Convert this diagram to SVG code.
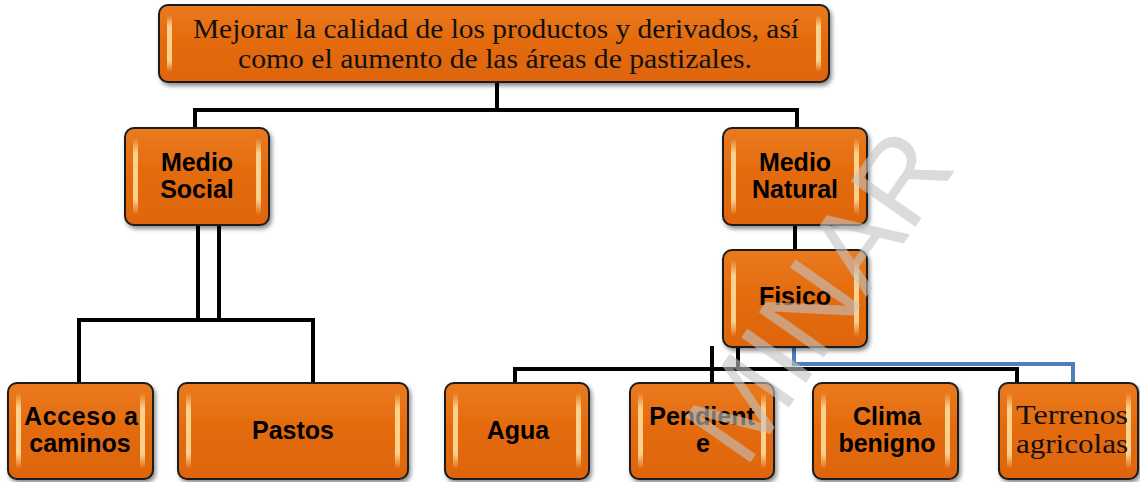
<svg xmlns="http://www.w3.org/2000/svg" width="1140" height="482" viewBox="0 0 1140 482">
<defs>
<linearGradient id="fillG" x1="0" y1="0" x2="0" y2="1">
<stop offset="0" stop-color="#ea7a20"/>
<stop offset="0.5" stop-color="#e36a0b"/>
<stop offset="1" stop-color="#de650a"/>
</linearGradient>
<linearGradient id="hlG" x1="0" y1="0" x2="0" y2="1">
<stop offset="0" stop-color="#ffe2a8" stop-opacity="0"/>
<stop offset="0.2" stop-color="#ffdc9a" stop-opacity="0.9"/>
<stop offset="0.8" stop-color="#ffdc9a" stop-opacity="0.9"/>
<stop offset="1" stop-color="#ffe2a8" stop-opacity="0"/>
</linearGradient>
<filter id="sh" x="-10%" y="-10%" width="120%" height="130%">
<feDropShadow dx="2" dy="3" stdDeviation="2" flood-color="#000" flood-opacity="0.45"/>
</filter>
</defs>
<style>
.box{fill:url(#fillG);stroke:#1a1a1a;stroke-width:2;filter:url(#sh)}
.hl{fill:url(#hlG)}
.sans{font-family:"Liberation Sans",Arial,sans-serif;font-weight:bold;font-size:25px;fill:#000;text-anchor:middle}
.serif{font-family:"Liberation Serif","Times New Roman",serif;font-size:27px;fill:#111;text-anchor:middle}
.conn{fill:none;stroke:#000;stroke-width:4}
.blue{fill:none;stroke:#4f7dbd;stroke-width:4}
.wm{font-family:"Liberation Sans",Arial,sans-serif;font-size:115px;fill:#c4c4c4;opacity:0.6}
</style>
<rect width="1140" height="482" fill="#fff"/>

<g id="connectors">
<polyline class="conn" points="497,82 497,110"/>
<polyline class="conn" points="195,128 195,110 797,110 797,128"/>
<line class="conn" x1="198" y1="225" x2="198" y2="320"/>
<line class="conn" x1="219" y1="225" x2="219" y2="320"/>
<polyline class="conn" points="79,383 79,320 313,320 313,383"/>
<line class="conn" x1="795" y1="225" x2="795" y2="250"/>
<polyline class="conn" points="515,383 515,369 1017,369 1017,383"/>
<line class="conn" x1="738" y1="347" x2="738" y2="369"/>
<line class="conn" x1="712" y1="346" x2="712" y2="383"/>
<polyline class="blue" points="794,347 794,364 1073,364 1073,383"/>
</g>

<g id="n-top">
<rect class="box" x="159" y="5" width="670" height="77" rx="9"/>
<rect class="hl" x="167" y="15" width="5" height="57" rx="2"/>
<rect class="hl" x="816" y="15" width="5" height="57" rx="2"/>
<text class="serif" x="496" y="38" textLength="606" lengthAdjust="spacingAndGlyphs">Mejorar la calidad de los productos y derivados, así</text>
<text class="serif" x="495" y="68" textLength="514" lengthAdjust="spacingAndGlyphs">como el aumento de las áreas de pastizales.</text>
</g>

<g id="n-social">
<rect class="box" x="125" y="128" width="144" height="97" rx="9"/>
<rect class="hl" x="133" y="138" width="5" height="77" rx="2"/>
<rect class="hl" x="256" y="138" width="5" height="77" rx="2"/>
<text class="sans" x="197" y="171">Medio</text>
<text class="sans" x="197" y="198">Social</text>
</g>

<g id="n-natural">
<rect class="box" x="723" y="128" width="144" height="97" rx="9"/>
<rect class="hl" x="731" y="138" width="5" height="77" rx="2"/>
<rect class="hl" x="854" y="138" width="5" height="77" rx="2"/>
<text class="sans" x="795" y="171">Medio</text>
<text class="sans" x="795" y="198">Natural</text>
</g>

<g id="n-fisico">
<rect class="box" x="723" y="250" width="144" height="97" rx="9"/>
<rect class="hl" x="731" y="260" width="5" height="77" rx="2"/>
<rect class="hl" x="854" y="260" width="5" height="77" rx="2"/>
<text class="sans" x="795" y="305">Fisico</text>
</g>

<g id="n-acceso">
<rect class="box" x="8" y="383" width="145" height="96" rx="9"/>
<rect class="hl" x="16" y="393" width="5" height="76" rx="2"/>
<rect class="hl" x="140" y="393" width="5" height="76" rx="2"/>
<text class="sans" x="81" y="425" textLength="114" lengthAdjust="spacing">Acceso a</text>
<text class="sans" x="80" y="452">caminos</text>
</g>

<g id="n-pastos">
<rect class="box" x="178" y="383" width="230" height="96" rx="9"/>
<rect class="hl" x="186" y="393" width="5" height="76" rx="2"/>
<rect class="hl" x="395" y="393" width="5" height="76" rx="2"/>
<text class="sans" x="293" y="439">Pastos</text>
</g>

<g id="n-agua">
<rect class="box" x="445" y="383" width="144" height="96" rx="9"/>
<rect class="hl" x="453" y="393" width="5" height="76" rx="2"/>
<rect class="hl" x="576" y="393" width="5" height="76" rx="2"/>
<text class="sans" x="518" y="439">Agua</text>
</g>

<g id="n-pendiente">
<rect class="box" x="630" y="383" width="144" height="96" rx="9"/>
<rect class="hl" x="638" y="393" width="5" height="76" rx="2"/>
<rect class="hl" x="761" y="393" width="5" height="76" rx="2"/>
<text class="sans" x="702" y="425">Pendient</text>
<text class="sans" x="703" y="452">e</text>
</g>

<g id="n-clima">
<rect class="box" x="813" y="383" width="145" height="96" rx="9"/>
<rect class="hl" x="821" y="393" width="5" height="76" rx="2"/>
<rect class="hl" x="945" y="393" width="5" height="76" rx="2"/>
<text class="sans" x="887" y="425">Clima</text>
<text class="sans" x="887" y="452">benigno</text>
</g>

<g id="n-terrenos">
<rect class="box" x="999" y="383" width="139" height="96" rx="9"/>
<rect class="hl" x="1007" y="393" width="5" height="76" rx="2"/>
<rect class="hl" x="1126" y="393" width="5" height="76" rx="2"/>
<text class="serif" x="1072" y="424" textLength="112" lengthAdjust="spacingAndGlyphs">Terrenos</text>
<text class="serif" x="1072" y="453" textLength="112" lengthAdjust="spacingAndGlyphs">agricolas</text>
</g>

<text class="wm" transform="translate(745,470) rotate(-55)">MINAR</text>
</svg>
